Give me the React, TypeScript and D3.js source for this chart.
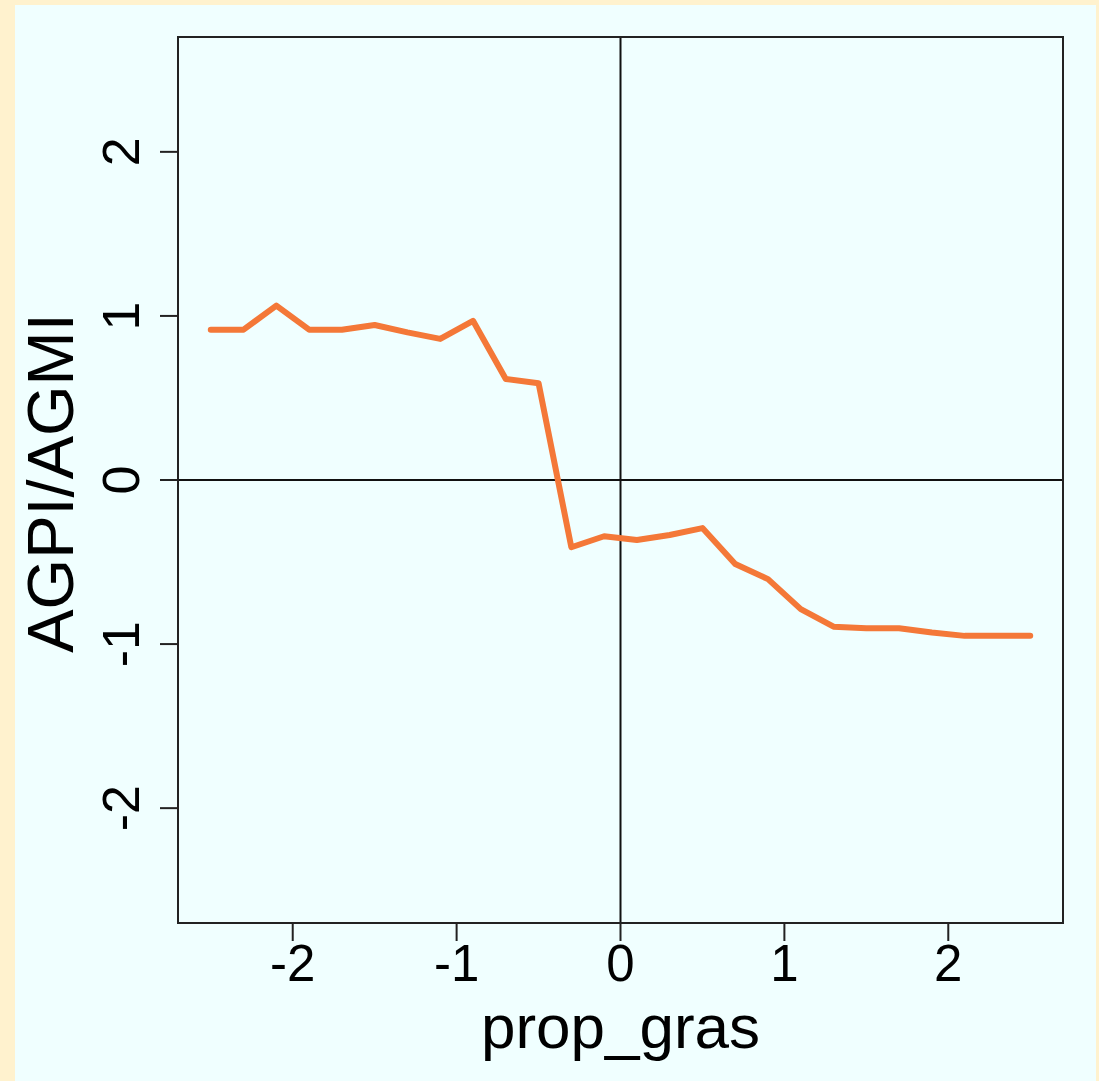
import React from 'react';
import * as d3 from 'd3';

// prop_gras grid (x) and smoothed AGPI/AGMI values (y)
const xValues = [-2.5, -2.3, -2.1, -1.9, -1.7, -1.5, -1.3, -1.1, -0.9, -0.7, -0.5, -0.3, -0.1, 0.1, 0.3, 0.5, 0.7, 0.9, 1.1, 1.3, 1.5, 1.7, 1.9, 2.1, 2.3, 2.5];
const yValues = [0.916, 0.916, 1.063, 0.916, 0.916, 0.945, 0.9, 0.86, 0.97, 0.616, 0.59, -0.41, -0.343, -0.366, -0.335, -0.293, -0.512, -0.604, -0.787, -0.894, -0.904, -0.904, -0.93, -0.95, -0.95, -0.95];
const xTicks = [-2, -1, 0, 1, 2];
const yTicks = [-2, -1, 0, 1, 2];
const xTitle = 'prop_gras';
const yTitle = 'AGPI/AGMI';

const W = 1099;
const H = 1081;
const plot = { left: 178, right: 1063, top: 37, bottom: 923 };
const font = '"Liberation Sans", Arial, sans-serif';

export default function App() {
  const x = d3.scaleLinear().domain([-2.7, 2.7]).range([plot.left, plot.right]);
  const y = d3.scaleLinear().domain([-2.7, 2.7]).range([plot.bottom, plot.top]);

  const points = xValues.map((v, i) => [v, yValues[i]] as [number, number]);
  const line = d3.line<[number, number]>().x(d => x(d[0])).y(d => y(d[1]));

  const tickLen = 18;

  return (
    <svg width={W} height={H} style={{ position: 'absolute', left: 0, top: 0 }}>
      <rect x={0} y={0} width={W} height={H} fill="#FFF2CE" />
      <rect x={15} y={5} width={1081} height={H - 5} fill="#F0FFFF" />

      {/* zero reference lines */}
      <line x1={x(0)} x2={x(0)} y1={plot.top} y2={plot.bottom} stroke="#111" strokeWidth={2} />
      <line x1={plot.left} x2={plot.right} y1={y(0)} y2={y(0)} stroke="#111" strokeWidth={2} />

      <path d={line(points) || ''} fill="none" stroke="#F47838" strokeWidth={6} strokeLinejoin="round" strokeLinecap="round" />

      <rect x={plot.left} y={plot.top} width={plot.right - plot.left} height={plot.bottom - plot.top}
        fill="none" stroke="#222" strokeWidth={2} />

      {xTicks.map(t => (
        <g key={'x' + t}>
          <line x1={x(t)} x2={x(t)} y1={plot.bottom} y2={plot.bottom + tickLen} stroke="#222" strokeWidth={2} />
          <text x={x(t)} y={981} textAnchor="middle" fontFamily={font} fontSize={51} fill="#000">{t}</text>
        </g>
      ))}

      {yTicks.map(t => (
        <g key={'y' + t}>
          <line x1={plot.left - tickLen} x2={plot.left} y1={y(t)} y2={y(t)} stroke="#222" strokeWidth={2} />
          <text transform={`translate(139,${y(t)}) rotate(-90)`} textAnchor="middle" fontFamily={font} fontSize={52} fill="#000">{t}</text>
        </g>
      ))}

      <text x={(plot.left + plot.right) / 2} y={1048} textAnchor="middle" fontFamily={font} fontSize={62} fill="#000">{xTitle}</text>
      <text transform={`translate(73,${y(0) + 3}) rotate(-90)`} textAnchor="middle" fontFamily={font} fontSize={65} fill="#000">{yTitle}</text>
    </svg>
  );
}
